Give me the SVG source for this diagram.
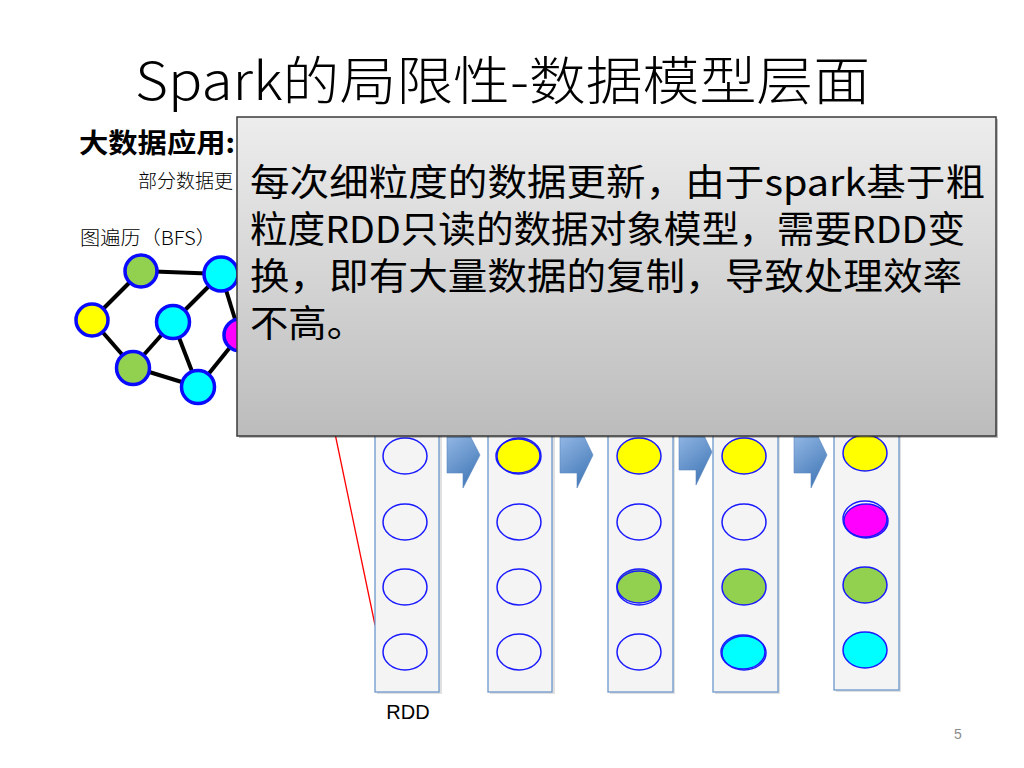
<svg xmlns="http://www.w3.org/2000/svg" width="1024" height="768" viewBox="0 0 1024 768">
<defs>
<linearGradient id="boxGrad" x1="0" y1="0" x2="0" y2="1">
<stop offset="0" stop-color="#ededed"/>
<stop offset="1" stop-color="#bcbcbc"/>
</linearGradient>
<linearGradient id="arrGrad" x1="0" y1="0" x2="0.4" y2="1">
<stop offset="0" stop-color="#a3c4ee"/>
<stop offset="1" stop-color="#4a7ebb"/>
</linearGradient>
<style>
.cjk{font-family:"Noto Sans CJK SC","Noto Sans",sans-serif;fill:#000}
.thin{font-weight:300}
.edge{stroke:#000;stroke-width:4;fill:none}
.gnode{stroke:#0a0aff;stroke-width:3.5}
.col{fill:#f4f4f4;stroke:#6c98cc;stroke-width:1.3}
.colsh{fill:#000;opacity:0.12}
.cell{stroke:#1a1aff;stroke-width:1.5}
.arrow{fill:url(#arrGrad);stroke:#5b86bf;stroke-width:0.6}
</style>
</defs>
<rect width="1024" height="768" fill="#fff"/>

<g id="title">
<text class="cjk thin" x="135" y="100" font-size="52" textLength="735" lengthAdjust="spacingAndGlyphs">Spark的局限性-数据模型层面</text>
</g>
<g id="heading">
<text class="cjk" x="79" y="153" font-size="27" font-weight="bold" textLength="156" lengthAdjust="spacingAndGlyphs">大数据应用:</text>
</g>
<g id="subtext">
<text class="cjk thin" x="138" y="188" font-size="19">部分数据更</text>
</g>
<g id="bfs-label">
<text class="cjk thin" x="80" y="245" font-size="19" textLength="136" lengthAdjust="spacingAndGlyphs">图遍历（BFS）</text>
</g>

<g id="connectors">
<line class="edge" x1="141" y1="271" x2="221" y2="274"/>
<line class="edge" x1="141" y1="271" x2="92" y2="320"/>
<line class="edge" x1="92" y1="320" x2="133" y2="367"/>
<line class="edge" x1="133" y1="367" x2="173" y2="322"/>
<line class="edge" x1="173" y1="322" x2="221" y2="274"/>
<line class="edge" x1="173" y1="322" x2="198" y2="387"/>
<line class="edge" x1="133" y1="367" x2="198" y2="387"/>
<line class="edge" x1="198" y1="387" x2="240" y2="335"/>
<line class="edge" x1="221" y1="274" x2="240" y2="335"/>
<line x1="328" y1="400" x2="375" y2="625" stroke="#ff0000" stroke-width="1.3"/>
<polygon class="arrow" points="447,437 463,437 463,422 480,455 463,488 463,473 447,473"/>
<polygon class="arrow" points="560,437 577,437 577,422 593,455 577,488 577,473 560,473"/>
<polygon class="arrow" points="679,435 696,435 696,419 712,452 696,485 696,470 679,470"/>
<polygon class="arrow" points="794,437 811,437 811,422 827,455 811,488 811,473 794,473"/>
</g>

<g id="graph-nodes">
<circle id="n-green-top" class="gnode" cx="141" cy="271" r="16" fill="#92d050"/>
<circle id="n-cyan-topright" class="gnode" cx="221" cy="274" r="17" fill="#00ffff"/>
<circle id="n-yellow" class="gnode" cx="92" cy="320" r="16" fill="#ffff00"/>
<circle id="n-cyan-center" class="gnode" cx="173" cy="322" r="16.5" fill="#00ffff"/>
<circle id="n-magenta" class="gnode" cx="240" cy="335" r="16" fill="#ff00ff"/>
<circle id="n-green-bottom" class="gnode" cx="133" cy="368" r="16.5" fill="#92d050"/>
<circle id="n-cyan-bottom" class="gnode" cx="198" cy="387" r="16.5" fill="#00ffff"/>
</g>

<g id="rdd1">
<rect class="colsh" x="377" y="400" width="65" height="294"/>
<rect class="col" x="375" y="398" width="64" height="294"/>
<ellipse class="cell" cx="405" cy="456" rx="22" ry="18" fill="none"/>
<ellipse class="cell" cx="405" cy="522" rx="22" ry="18" fill="none"/>
<ellipse class="cell" cx="405" cy="587" rx="22" ry="18" fill="none"/>
<ellipse class="cell" cx="405" cy="652" rx="22" ry="18" fill="none"/>
</g>
<g id="rdd2">
<rect class="colsh" x="490" y="400" width="65" height="294"/>
<rect class="col" x="488" y="398" width="64" height="294"/>
<ellipse class="cell" cx="519" cy="456" rx="22" ry="18" fill="#ffff00"/>
<ellipse class="cell" cx="518" cy="456" rx="22" ry="17" fill="none" stroke-width="1"/>
<ellipse class="cell" cx="519" cy="522" rx="22" ry="18" fill="none"/>
<ellipse class="cell" cx="519" cy="587" rx="22" ry="18" fill="none"/>
<ellipse class="cell" cx="519" cy="652" rx="22" ry="18" fill="none"/>
</g>
<g id="rdd3">
<rect class="colsh" x="610" y="400" width="65" height="294"/>
<rect class="col" x="608" y="398" width="65" height="294"/>
<ellipse class="cell" cx="639" cy="456" rx="22" ry="18" fill="#ffff00"/>
<ellipse class="cell" cx="639" cy="522" rx="22" ry="18" fill="none"/>
<ellipse class="cell" cx="639" cy="586" rx="22" ry="17" fill="#92d050"/>
<ellipse class="cell" cx="639" cy="588" rx="22" ry="17" fill="none" stroke-width="1"/>
<ellipse class="cell" cx="639" cy="652" rx="22" ry="18" fill="none"/>
</g>
<g id="rdd4">
<rect class="colsh" x="715" y="400" width="65" height="294"/>
<rect class="col" x="713" y="398" width="65" height="294"/>
<ellipse class="cell" cx="744" cy="456" rx="22" ry="18" fill="#ffff00"/>
<ellipse class="cell" cx="744" cy="522" rx="22" ry="18" fill="none"/>
<ellipse class="cell" cx="744" cy="587" rx="22" ry="18" fill="#92d050"/>
<ellipse class="cell" cx="743" cy="652" rx="22" ry="17" fill="#00ffff"/>
<ellipse class="cell" cx="744" cy="653" rx="22" ry="17" fill="none" stroke-width="1"/>
</g>
<g id="rdd5">
<rect class="colsh" x="836" y="400" width="65" height="292"/>
<rect class="col" x="834" y="398" width="65" height="292"/>
<ellipse class="cell" cx="865" cy="453" rx="22" ry="18" fill="#ffff00"/>
<ellipse class="cell" cx="866" cy="521" rx="22" ry="17" fill="#ff00ff"/>
<ellipse class="cell" cx="865" cy="519" rx="22" ry="18" fill="none" stroke-width="1"/>
<ellipse class="cell" cx="865" cy="585" rx="22" ry="18" fill="#92d050"/>
<ellipse class="cell" cx="865" cy="650" rx="22" ry="18" fill="#00ffff"/>
</g>

<g id="rdd-label">
<text x="408" y="719" font-family="'Liberation Sans','Noto Sans',sans-serif" font-size="20" text-anchor="middle" fill="#000">RDD</text>
</g>

<g id="callout">
<rect x="239" y="119" width="759" height="319" fill="#000" opacity="0.25"/>
<rect x="237" y="117" width="759" height="319" fill="url(#boxGrad)" stroke="#3a3a3a" stroke-width="1.5"/>
<text class="cjk" font-size="37" x="250" y="196" textLength="735" lengthAdjust="spacingAndGlyphs">每次细粒度的数据更新，由于spark基于粗</text>
<text class="cjk" font-size="37" x="250" y="243" textLength="715" lengthAdjust="spacingAndGlyphs">粒度RDD只读的数据对象模型，需要RDD变</text>
<text class="cjk" font-size="37" x="250" y="290" textLength="712" lengthAdjust="spacingAndGlyphs">换，即有大量数据的复制，导致处理效率</text>
<text class="cjk" font-size="37" x="250" y="337" textLength="115" lengthAdjust="spacingAndGlyphs">不高。</text>
</g>

<g id="page-number">
<text x="958" y="739" font-family="'Liberation Sans',sans-serif" font-size="14" fill="#8c8c8c" text-anchor="middle">5</text>
</g>
</svg>
